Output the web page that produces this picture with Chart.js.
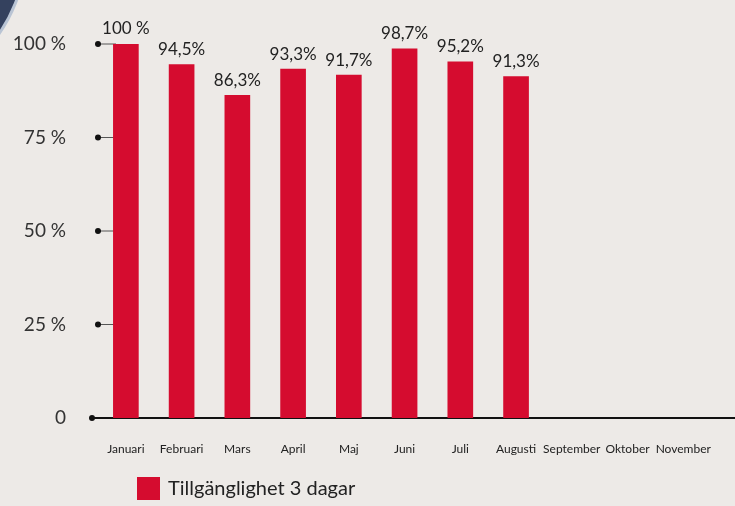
<!DOCTYPE html>
<html>
<head>
<meta charset="utf-8">
<script src="https://cdn.jsdelivr.net/npm/chart.js@4"></script>
<style>
    html, body { margin: 0; padding: 0; background: #edeae7; overflow: hidden; }
    .wrap { position: relative; width: 735px; height: 506px; }
    .corner {
        position: absolute; left: -267px; top: -197px; width: 288px; height: 288px;
        border-radius: 50%; background: #34415e; border: 3px solid #b9c4d4;
    }
    canvas { position: absolute; left: 0; top: 0; }
</style>
</head>
<body>
<div class="wrap">
    <div class="corner"></div>
    <canvas id="availabilityChart" width="735" height="506"></canvas>
</div>
<script>
// Data
const months = ['Januari', 'Februari', 'Mars', 'April', 'Maj', 'Juni', 'Juli',
    'Augusti', 'September', 'Oktober', 'November'];
const availability = [100, 94.5, 86.3, 93.3, 91.7, 98.7, 95.2, 91.3, null, null, null];
const yTicks = [0, 25, 50, 75, 100];
const seriesName = 'Tillgänglighet 3 dagar';

const RED = '#d50c2f';
const FONT = 'Lato, "Open Sans", sans-serif';

function fmtPercent(v) {
    if (v === 100) return '100 %';
    return v.toFixed(1).replace('.', ',') + '%';
}

// Tick dots + axis line
const axisDots = {
    id: 'axisDots',
    beforeDatasetsDraw(chart) {
        const ctx = chart.ctx;
        const y = chart.scales.y;
        const area = chart.chartArea;
        ctx.save();
        yTicks.forEach(v => {
            const py = y.getPixelForValue(v);
            const dotX = v === 0 ? area.left - 6 : area.left;
            ctx.strokeStyle = v === 0 ? '#111' : '#555';
            ctx.lineWidth = v === 0 ? 2 : 1;
            ctx.beginPath();
            ctx.moveTo(dotX, py);
            ctx.lineTo(v === 0 ? chart.width : area.left + 18, py);
            ctx.stroke();
            ctx.fillStyle = '#111';
            ctx.beginPath();
            ctx.arc(dotX, py, 3, 0, Math.PI * 2);
            ctx.fill();
        });
        ctx.restore();
    }
};

// Value labels above bars + legend
const barLabels = {
    id: 'barLabels',
    afterDatasetsDraw(chart) {
        const ctx = chart.ctx;
        const meta = chart.getDatasetMeta(0);
        ctx.save();
        ctx.fillStyle = '#222';
        ctx.font = '17px ' + FONT;
        ctx.textAlign = 'center';
        ctx.textBaseline = 'middle';
        meta.data.forEach((bar, i) => {
            const v = availability[i];
            if (v === null) return;
            ctx.fillText(fmtPercent(v), bar.x, bar.y - 15);
        });

        // legend
        ctx.fillStyle = RED;
        ctx.fillRect(137, 477, 23, 23);
        ctx.fillStyle = '#222';
        ctx.font = '20px ' + FONT;
        ctx.textAlign = 'left';
        ctx.fillText(seriesName, 168, 489);
        ctx.restore();
    }
};

new Chart(document.getElementById('availabilityChart'), {
    type: 'bar',
    data: {
        labels: months,
        datasets: [{
            label: seriesName,
            data: availability,
            backgroundColor: RED,
            borderWidth: 0,
            barThickness: 25
        }]
    },
    options: {
        responsive: false,
        animation: false,
        layout: {
            padding: { top: 44, right: 2, bottom: 48, left: 0 }
        },
        plugins: {
            legend: { display: false },
            tooltip: { enabled: false }
        },
        scales: {
            x: {
                afterFit: s => { s.height = 40; },
                grid: { display: false, drawTicks: false },
                border: { display: false },
                ticks: {
                    color: '#222',
                    padding: 24,
                    maxRotation: 0,
                    autoSkip: false,
                    font: { family: FONT, size: 12 }
                }
            },
            y: {
                min: 0,
                max: 100,
                afterFit: s => { s.width = 98; },
                afterBuildTicks: s => { s.ticks = yTicks.map(v => ({ value: v })); },
                grid: { display: false, drawTicks: false },
                border: { display: false },
                ticks: {
                    color: '#333',
                    padding: 32,
                    font: { family: FONT, size: 19 },
                    callback: v => v === 0 ? '0' : v + ' %'
                }
            }
        }
    },
    plugins: [axisDots, barLabels]
});
</script>
</body>
</html>
